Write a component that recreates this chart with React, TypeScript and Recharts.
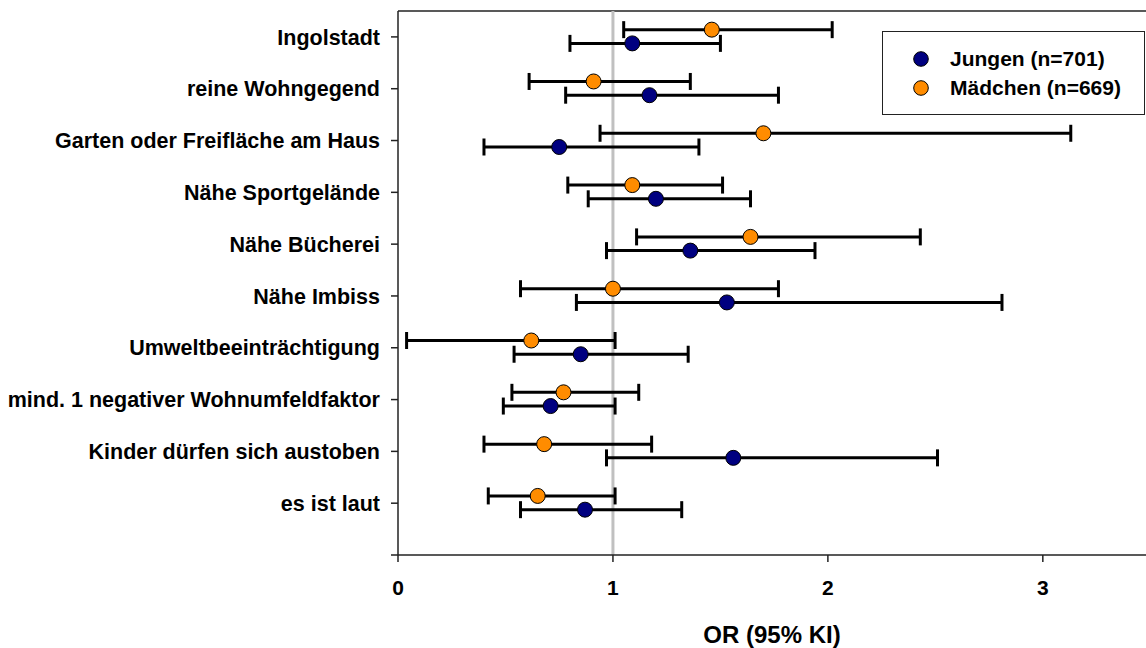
import React from 'react';
import { ScatterChart, Scatter, XAxis, YAxis, ErrorBar, ReferenceLine, Legend } from 'recharts';

const categories = [
  'Ingolstadt',
  'reine Wohngegend',
  'Garten oder Freifläche am Haus',
  'Nähe Sportgelände',
  'Nähe Bücherei',
  'Nähe Imbiss',
  'Umweltbeeinträchtigung',
  'mind. 1 negativer Wohnumfeldfaktor',
  'Kinder dürfen sich austoben',
  'es ist laut',
];

const boysOR = [1.09, 1.17, 0.75, 1.2, 1.36, 1.53, 0.85, 0.71, 1.56, 0.87];
const boysLo = [0.8, 0.78, 0.4, 0.885, 0.97, 0.83, 0.54, 0.49, 0.97, 0.57];
const boysHi = [1.5, 1.77, 1.4, 1.64, 1.94, 2.81, 1.35, 1.01, 2.51, 1.32];

const girlsOR = [1.46, 0.91, 1.7, 1.09, 1.64, 1.0, 0.62, 0.77, 0.68, 0.65];
const girlsLo = [1.05, 0.61, 0.94, 0.79, 1.11, 0.57, 0.04, 0.53, 0.4, 0.42];
const girlsHi = [2.02, 1.36, 3.13, 1.51, 2.43, 1.77, 1.01, 1.12, 1.18, 1.01];

const xTicks = [0, 1, 2, 3];
const yTicks = [0, 1, 2, 3, 4, 5, 6, 7, 8, 9, 10];

const FONT = '"Liberation Sans", Arial, sans-serif';
const BOYS = '#000080';
const GIRLS = '#FF8C00';

const build = (or: number[], lo: number[], hi: number[], shift: number) =>
  or.map((v, i) => ({ row: i + shift, or: v, err: [v - lo[i], hi[i] - v] }));

const boys = build(boysOR, boysLo, boysHi, 0.125);
const girls = build(girlsOR, girlsLo, girlsHi, -0.14);

const dot = (fill: string) => (p: any) =>
  <circle cx={p.cx} cy={p.cy} r={7.5} fill={fill} stroke="#000" strokeWidth={1} />;

const series = [
  { name: 'Jungen (n=701)', color: BOYS },
  { name: 'Mädchen (n=669)', color: GIRLS },
];

function LegendBox() {
  return (
    <div style={{ border: '1.5px solid #222', height: 84, boxSizing: 'border-box', background: '#fff', paddingTop: 12, paddingLeft: 30 }}>
      {series.map(s => (
        <div key={s.name} style={{ display: 'flex', alignItems: 'center', height: 29, fontFamily: FONT, fontWeight: 'bold', fontSize: 21 }}>
          <svg width={16} height={16} style={{ marginRight: 21 }}>
            <circle cx={8} cy={8} r={7.3} fill={s.color} stroke="#000" strokeWidth={1} />
          </svg>
          <span>{s.name}</span>
        </div>
      ))}
    </div>
  );
}

export default function App() {
  const tickStyle = { fontSize: 21, fontWeight: 'bold', fill: '#000', fontFamily: FONT };
  const yTickStyle = { ...tickStyle, fontSize: 21.5 };
  return (
    <div style={{ position: 'absolute', left: 0, top: 0, width: 1146, height: 648, overflow: 'hidden', background: '#fff' }}>
      <ScatterChart width={1146} height={648} margin={{ top: 11, right: 0, bottom: 0, left: 0 }}>
        <XAxis
          type="number"
          dataKey="or"
          domain={[0, 3.48]}
          ticks={xTicks}
          allowDataOverflow
          tickSize={7}
          tickMargin={18}
          height={93}
          tick={tickStyle}
          axisLine={{ stroke: '#222', strokeWidth: 1.5 }}
          tickLine={{ stroke: '#222', strokeWidth: 1.5 }}
          label={{ value: 'OR (95% KI)', position: 'insideBottom', offset: 5, style: { fontSize: 24, fontWeight: 'bold', fill: '#000', fontFamily: FONT } }}
        />
        <YAxis
          type="number"
          dataKey="row"
          domain={[-0.5, 10]}
          ticks={yTicks}
          reversed
          allowDataOverflow
          width={398}
          tickSize={7}
          tickMargin={11}
          interval={0}
          tick={yTickStyle}
          tickFormatter={(v: number) => categories[v] ?? ''}
          axisLine={{ stroke: '#222', strokeWidth: 1.5 }}
          tickLine={{ stroke: '#222', strokeWidth: 1.5 }}
        />
        <ReferenceLine y={-0.5} stroke="#222" strokeWidth={1.5} />
        <ReferenceLine x={1} stroke="#c0c0c0" strokeWidth={3} />
        <Scatter name="Jungen (n=701)" data={boys} fill={BOYS} shape={dot(BOYS)} isAnimationActive={false}>
          <ErrorBar dataKey="err" direction="x" width={8.5} stroke="#000" strokeWidth={3} isAnimationActive={false} />
        </Scatter>
        <Scatter name="Mädchen (n=669)" data={girls} fill={GIRLS} shape={dot(GIRLS)} isAnimationActive={false}>
          <ErrorBar dataKey="err" direction="x" width={8.5} stroke="#000" strokeWidth={3} isAnimationActive={false} />
        </Scatter>
        <Legend
          layout="horizontal"
          verticalAlign="middle"
          align="center"
          wrapperStyle={{ top: 31, left: 882, width: 263 }}
          content={() => <LegendBox />}
        />
      </ScatterChart>
    </div>
  );
}
